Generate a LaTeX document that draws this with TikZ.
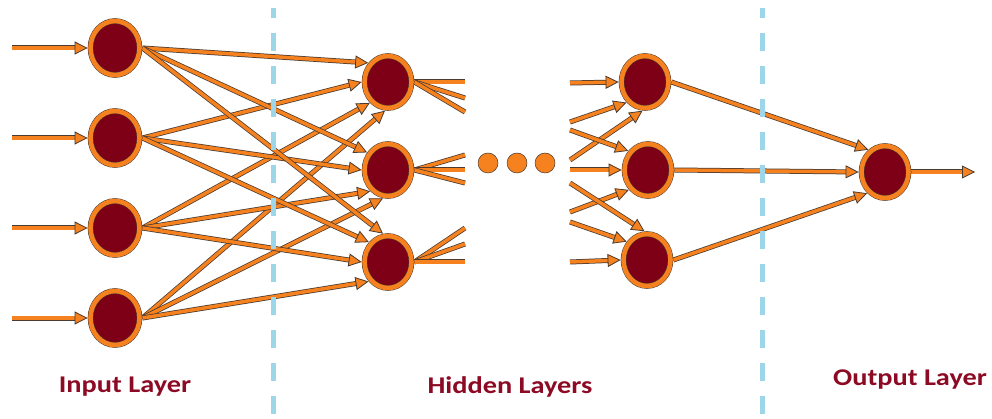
\documentclass[tikz,border=0pt]{standalone}
\usepackage{fontspec}
\usepackage{graphicx}
\setmainfont{Carlito}
\usetikzlibrary{arrows.meta,shapes.geometric}

\definecolor{wire}{HTML}{F5821F}
\definecolor{wireedge}{HTML}{4A3A30}
\definecolor{cellred}{HTML}{7D0016}
\definecolor{splitblue}{HTML}{9DD6E8}
\definecolor{labelred}{HTML}{8C0A24}

\pgfdeclarelayer{wires}
\pgfsetlayers{wires,main}

\begin{document}
\begin{tikzpicture}[x=1pt,y=-1pt,
  neuron/.style={ellipse, minimum width=47pt, minimum height=52pt, inner sep=0pt,
    outer sep=2.9pt, fill=cellred, draw=wireedge, line width=0.5pt,
    double=wire, double distance=4.6pt},
  bigneuron/.style={neuron, minimum width=49pt, minimum height=54pt},
  dotnode/.style={circle, minimum size=20pt, inner sep=0pt, fill=wire,
    draw=wireedge, line width=0.5pt},
  conn/.style={draw=wire, line width=3.5pt,
    -{Triangle[length=13pt,width=13pt,fill=wire,color=wireedge,line width=0.8pt]},
    preaction={draw=wireedge, line width=5pt, -, shorten >=10pt}},
  stub/.style={draw=wire, line width=3.5pt,
    preaction={draw=wireedge, line width=5pt}},
  divider/.style={draw=splitblue, line width=5pt,
    dash pattern=on 18pt off 15pt, dash phase=8pt},
  layerlabel/.style={anchor=base, text=labelred, inner sep=0pt,
    font=\bfseries\fontsize{24}{28}\selectfont}
]
\useasboundingbox (0,0) rectangle (992,419);

% neurons
\node[bigneuron] (i1) at (115,48) {};
\node[bigneuron] (i2) at (115,138) {};
\node[bigneuron] (i3) at (115,228) {};
\node[bigneuron] (i4) at (115,318) {};
\node[neuron] (ha) at (388,82) {};
\node[neuron] (hb) at (388,170) {};
\node[neuron] (hc) at (388,262) {};
\node[neuron] (ga) at (645,82) {};
\node[neuron] (gb) at (648,170) {};
\node[neuron] (gc) at (647,260) {};
\node[neuron] (out) at (885,172) {};

% ellipsis between hidden layers
\node[dotnode] (d1) at (488,163) {};
\node[dotnode] (d2) at (517,163) {};
\node[dotnode] (d3) at (545,163) {};

% free ends of the wires
\coordinate (in1) at (12,48);
\coordinate (in2) at (12,138);
\coordinate (in3) at (12,228);
\coordinate (in4) at (12,318);
\coordinate (sa1) at (465,82);
\coordinate (sa2) at (465,98);
\coordinate (sa3) at (465,112);
\coordinate (sb1) at (465,155);
\coordinate (sb2) at (465,170);
\coordinate (sb3) at (465,183);
\coordinate (sc1) at (465,228);
\coordinate (sc2) at (465,244);
\coordinate (sc3) at (465,262);
\coordinate (r1) at (570,83);
\coordinate (r2) at (570,122);
\coordinate (r3) at (570,160);
\coordinate (r4) at (570,130);
\coordinate (r5) at (570,170);
\coordinate (r6) at (570,212);
\coordinate (r7) at (570,183);
\coordinate (r8) at (570,222);
\coordinate (r9) at (570,262);
\coordinate (result) at (975,172);

\begin{pgfonlayer}{wires}
  % inputs
  \draw[conn] (in1) -- (i1.west);
  \draw[conn] (in2) -- (i2.west);
  \draw[conn] (in3) -- (i3.west);
  \draw[conn] (in4) -- (i4.west);
  % input layer to first hidden layer
  \draw[conn] (i1.east) -- (ha.136);
  \draw[conn] (i2.east) -- (ha.180);
  \draw[conn] (i3.east) -- (ha.229);
  \draw[conn] (i4.east) -- (ha.264);
  \draw[conn] (i1.east) -- (hb.140);
  \draw[conn] (i2.east) -- (hb.180);
  \draw[conn] (i3.east) -- (hb.230);
  \draw[conn] (i4.east) -- (hb.260);
  \draw[conn] (i1.east) -- (hc.100);
  \draw[conn] (i2.east) -- (hc.134);
  \draw[conn] (i3.east) -- (hc.180);
  \draw[conn] (i4.east) -- (hc.225);
  % wires leaving the first hidden layer
  \draw[stub] (ha.east) -- (sa1);
  \draw[stub] (ha.east) -- (sa2);
  \draw[stub] (ha.east) -- (sa3);
  \draw[stub] (hb.east) -- (sb1);
  \draw[stub] (hb.east) -- (sb2);
  \draw[stub] (hb.east) -- (sb3);
  \draw[stub] (hc.east) -- (sc1);
  \draw[stub] (hc.east) -- (sc2);
  \draw[stub] (hc.east) -- (sc3);
  % wires entering the last hidden layer
  \draw[conn] (r1) -- (ga.west);
  \draw[conn] (r2) -- (ga.228);
  \draw[conn] (r3) -- (ga.265);
  \draw[conn] (r4) -- (gb.136);
  \draw[conn] (r5) -- (gb.west);
  \draw[conn] (r6) -- (gb.226);
  \draw[conn] (r7) -- (gc.95);
  \draw[conn] (r8) -- (gc.138);
  \draw[conn] (r9) -- (gc.west);
  % last hidden layer to output
  \draw[conn] (ga.east) -- (out.127);
  \draw[conn] (gb.east) -- (out.west);
  \draw[conn] (gc.east) -- (out.230);
  \draw[conn] (out.east) -- (result);
\end{pgfonlayer}

% layer dividers
\draw[divider] (273,8) -- (273,419);
\draw[divider] (762,8) -- (762,419);

% layer names
\node[layerlabel] (lin) at (125,392) {\scalebox{1.18}[1]{Input Layer}};
\node[layerlabel] (lhid) at (510,393) {\scalebox{1.18}[1]{Hidden Layers}};
\node[layerlabel] (lout) at (910,385) {\scalebox{1.18}[1]{Output Layer}};
\end{tikzpicture}
\end{document}
